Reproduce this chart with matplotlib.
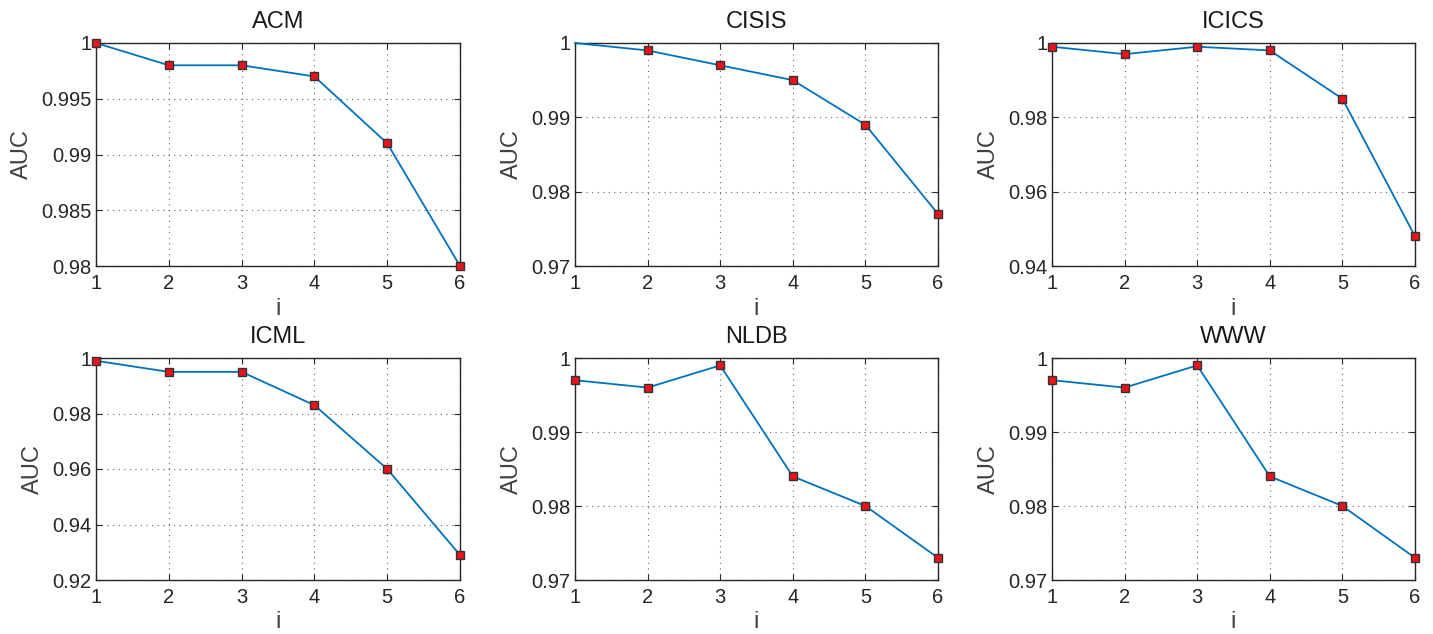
import matplotlib
matplotlib.use("Agg")
import matplotlib.pyplot as plt

plt.rcParams['font.family'] = ['Liberation Sans', 'DejaVu Sans']

x = [1, 2, 3, 4, 5, 6]
titles = ["ACM", "CISIS", "ICICS", "ICML", "NLDB", "WWW"]
acm = [1.0, 0.998, 0.998, 0.997, 0.991, 0.980]
cisis = [1.0, 0.999, 0.997, 0.995, 0.989, 0.977]
icics = [0.999, 0.997, 0.999, 0.998, 0.985, 0.948]
icml = [0.999, 0.995, 0.995, 0.983, 0.960, 0.929]
nldb = [0.997, 0.996, 0.999, 0.984, 0.980, 0.973]
www = [0.997, 0.996, 0.999, 0.984, 0.980, 0.973]
series = [acm, cisis, icics, icml, nldb, www]

yticks = [
    [0.98, 0.985, 0.99, 0.995, 1.0],
    [0.97, 0.98, 0.99, 1.0],
    [0.94, 0.96, 0.98, 1.0],
    [0.92, 0.94, 0.96, 0.98, 1.0],
    [0.97, 0.98, 0.99, 1.0],
    [0.97, 0.98, 0.99, 1.0],
]
ylabels = [
    ["0.98", "0.985", "0.99", "0.995", "1"],
    ["0.97", "0.98", "0.99", "1"],
    ["0.94", "0.96", "0.98", "1"],
    ["0.92", "0.94", "0.96", "0.98", "1"],
    ["0.97", "0.98", "0.99", "1"],
    ["0.97", "0.98", "0.99", "1"],
]
markevery = [None, [1, 2, 3, 4, 5], None, None, None, None]

W, H = 1433, 634
fig = plt.figure(figsize=(W / 100, H / 100), dpi=100)

lefts = [96, 575, 1052]
rights = [460, 938, 1415]
tops = [43, 358]
bottoms = [266, 580]

for k in range(6):
    r, c = divmod(k, 3)
    l, rt = lefts[c], rights[c]
    t, b = tops[r], bottoms[r]
    ax = fig.add_axes([l / W, 1 - b / H, (rt - l) / W, (b - t) / H])
    ax.plot(x, series[k], color='#0072BD', lw=1.3, marker='s', ms=6.2,
            mfc='#E8141B', mec='#333333', mew=1.0, markevery=markevery[k],
            clip_on=False, zorder=3)
    ax.set_xlim(1, 6)
    ax.set_ylim(yticks[k][0], yticks[k][-1])
    ax.set_xticks(x)
    ax.set_xticklabels([str(v) for v in x])
    ax.set_yticks(yticks[k])
    ax.set_yticklabels(ylabels[k])
    ax.grid(True, linestyle=(0, (1, 4)), color='#444444', lw=0.8, alpha=0.8)
    ax.tick_params(direction='in', top=True, right=True, length=4,
                   labelsize=14.5, colors='#262626')
    ax.tick_params(axis='x', pad=6)
    ax.tick_params(axis='y', pad=3)
    for s in ax.spines.values():
        s.set_color('#262626')
        s.set_linewidth(1.0)
    ax.set_title(titles[k], fontsize=17, color='#1a1a1a', pad=11)
    ax.set_xlabel('i', fontsize=17, color='#404040', labelpad=3)
    ax.set_ylabel('AUC', fontsize=17, color='#404040', labelpad=6)

fig.savefig('out.png', dpi=100, facecolor='white')
